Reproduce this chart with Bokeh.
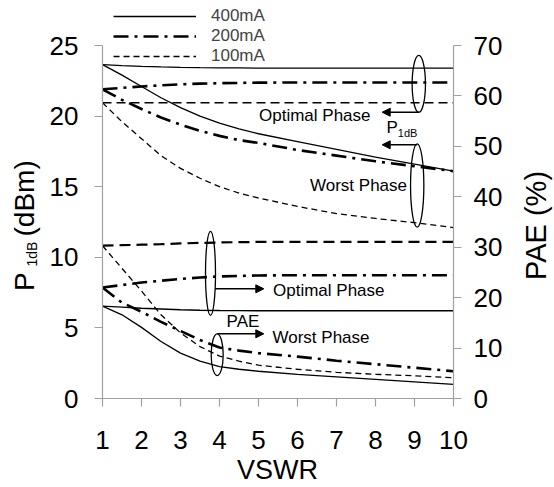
import math
from bokeh.plotting import figure
from bokeh.models import (Range1d, LinearAxis, FixedTicker, Legend, LegendItem,
                          Label, Arrow, NormalHead)
from bokeh.embed import file_html
from bokeh.resources import INLINE

# ---------------- data ----------------
vswr = [1, 1.5, 2, 2.5, 3, 3.5, 4, 4.5, 5, 6, 7, 8, 9, 10]

# P1dB (dBm), optimal phase
p1db_opt_400 = [23.65, 23.58, 23.52, 23.48, 23.45, 23.43, 23.42, 23.41, 23.40, 23.40, 23.40, 23.40, 23.40, 23.40]
p1db_opt_200 = [21.90, 22.00, 22.10, 22.18, 22.25, 22.30, 22.33, 22.35, 22.37, 22.38, 22.38, 22.38, 22.38, 22.38]
p1db_opt_100 = [20.95, 20.95, 20.95, 20.95, 20.95, 20.95, 20.95, 20.95, 20.95, 20.95, 20.95, 20.95, 20.95, 20.95]
# P1dB (dBm), worst phase
p1db_worst_400 = [23.65, 22.90, 22.10, 21.30, 20.60, 20.00, 19.50, 19.10, 18.75, 18.20, 17.65, 17.10, 16.60, 16.10]
p1db_worst_200 = [21.90, 21.15, 20.50, 19.90, 19.40, 18.95, 18.60, 18.30, 18.10, 17.60, 17.20, 16.80, 16.45, 16.10]
p1db_worst_100 = [20.95, 19.60, 18.40, 17.20, 16.30, 15.60, 15.00, 14.55, 14.20, 13.60, 13.10, 12.75, 12.45, 12.10]

# PAE (%), optimal phase
pae_opt_400 = [18.3, 18.1, 17.9, 17.75, 17.6, 17.5, 17.45, 17.42, 17.4, 17.4, 17.4, 17.4, 17.4, 17.4]
pae_opt_200 = [22.0, 22.5, 23.0, 23.35, 23.7, 24.0, 24.2, 24.3, 24.4, 24.45, 24.45, 24.45, 24.45, 24.45]
pae_opt_100 = [30.3, 30.4, 30.5, 30.6, 30.75, 30.85, 30.95, 31.0, 31.05, 31.05, 31.05, 31.05, 31.05, 31.05]
# PAE (%), worst phase
pae_worst_400 = [18.3, 16.6, 14.1, 11.3, 9.0, 7.4, 6.3, 5.8, 5.4, 4.8, 4.3, 3.8, 3.3, 2.8]
pae_worst_200 = [22.0, 19.0, 17.2, 15.2, 13.4, 11.6, 10.1, 9.5, 9.0, 8.3, 7.5, 6.8, 6.1, 5.4]
pae_worst_100 = [30.3, 25.8, 21.3, 16.6, 13.0, 10.3, 8.4, 7.4, 6.6, 5.8, 5.2, 4.8, 4.5, 4.1]

series_labels = ["400mA", "200mA", "100mA"]
x_ticks = [1, 2, 3, 4, 5, 6, 7, 8, 9, 10]
left_ticks = [0, 5, 10, 15, 20, 25]
right_ticks = [0, 10, 20, 30, 40, 50, 60, 70]
x_min, x_max = 1, 10
left_max, right_max = 25, 70

# ---------------- layout (pixels) ----------------
W, H = 554, 487
X1_PX, X10_PX = 102, 453      # where VSWR 1 and 10 sit
Y0_PX, YTOP_PX = 398, 45      # where 0 and the axis tops sit

sx = (x_max - x_min) / (X10_PX - X1_PX)
sl = left_max / (Y0_PX - YTOP_PX)
sr = right_max / (Y0_PX - YTOP_PX)

def X(px):
    return x_min + (px - X1_PX) * sx

def YL(py):
    return (Y0_PX - py) * sl

def YR(py):
    return (Y0_PX - py) * sr

FONT = "Liberation Sans"
AXIS_GRAY = "#a0a0a0"

p = figure(width=W, height=H, output_backend="svg", toolbar_location=None,
           x_range=Range1d(X(0), X(W)), y_range=Range1d(YL(H), YL(0)))
p.extra_y_ranges = {"pae": Range1d(YR(H), YR(0))}
p.min_border = 0
p.min_border_left = p.min_border_right = p.min_border_top = p.min_border_bottom = 0
p.outline_line_color = None
p.grid.visible = False
p.background_fill_color = "white"
p.border_fill_color = "white"

right_axis = LinearAxis(y_range_name="pae")
p.add_layout(right_axis, "right")

p.xaxis[0].ticker = FixedTicker(ticks=x_ticks)
p.yaxis[0].ticker = FixedTicker(ticks=left_ticks)
right_axis.ticker = FixedTicker(ticks=right_ticks)
p.xaxis[0].bounds = (x_min, x_max)
p.yaxis[0].bounds = (0, left_max)
right_axis.bounds = (0, right_max)
p.xaxis[0].fixed_location = 0
p.yaxis[0].fixed_location = x_min
right_axis.fixed_location = x_max

for ax in [p.xaxis[0], p.yaxis[0], right_axis]:
    ax.axis_line_color = AXIS_GRAY
    ax.axis_line_width = 1.2
    ax.major_tick_line_color = AXIS_GRAY
    ax.major_tick_line_width = 1.2
    ax.major_tick_in = 0
    ax.major_tick_out = 8
    ax.minor_tick_line_color = None
    ax.major_label_text_font = FONT
    ax.major_label_text_font_size = "26px"
    ax.major_label_text_color = "black"
p.xaxis[0].major_label_standoff = 24
p.yaxis[0].major_label_standoff = 16
right_axis.major_label_standoff = 12

solid = dict(line_color="black", line_width=1.3)
dashdot = dict(line_color="black", line_width=2.6, line_dash="15 6 3 6")
dash_thin = dict(line_color="black", line_width=1.3, line_dash="6 4")
dash_mid = dict(line_color="black", line_width=1.6, line_dash="9 5")
dash_thick = dict(line_color="black", line_width=2.2, line_dash="11 6")

# P1dB (left axis)
p.line(vswr, p1db_opt_400, **solid)
p.line(vswr, p1db_opt_200, **dashdot)
p.line(vswr, p1db_opt_100, **dash_mid)
r400 = p.line(vswr, p1db_worst_400, **solid)
r200 = p.line(vswr, p1db_worst_200, **dashdot)
r100 = p.line(vswr, p1db_worst_100, **dash_thin)

# PAE (right axis)
p.line(vswr, pae_opt_400, y_range_name="pae", **solid)
p.line(vswr, pae_opt_200, y_range_name="pae", **dashdot)
p.line(vswr, pae_opt_100, y_range_name="pae", **dash_thick)
p.line(vswr, pae_worst_400, y_range_name="pae", **solid)
p.line(vswr, pae_worst_200, y_range_name="pae", **dashdot)
p.line(vswr, pae_worst_100, y_range_name="pae", **dash_thin)

legend = Legend(items=[LegendItem(label=series_labels[0], renderers=[r400]),
                       LegendItem(label=series_labels[1], renderers=[r200]),
                       LegendItem(label=series_labels[2], renderers=[r100])],
                location=(113, H - 66), padding=0, margin=0, spacing=0,
                glyph_width=83, glyph_height=20, label_height=20,
                label_standoff=15, label_text_font=FONT,
                label_text_font_size="17px", background_fill_alpha=0,
                border_line_alpha=0)
p.add_layout(legend, "center")

# ellipses (annotation marks): centre in pixels, size in screen pixels
p.ellipse(x=[X(418.3), X(416.7)], y=[YL(83.4), YL(185)], width=[13.3, 13.3],
          height=[57, 83.4], width_units="screen", height_units="screen",
          fill_color=None, line_color="black", line_width=1.3)
p.ellipse(x=[X(210), X(216.7)], y=[YL(272.8), YL(354.2)], width=[10, 12],
          height=[84, 41.7], width_units="screen", height_units="screen",
          fill_color=None, line_color="black", line_width=1.3)

def arrow(px0, px1, py):
    head = NormalHead(size=8, fill_color="black", line_color="black", line_width=1)
    p.add_layout(Arrow(end=head, x_start=X(px0), y_start=YL(py), x_end=X(px1),
                       y_end=YL(py), line_color="black", line_width=1.5))

arrow(418.3, 381.7, 111.7)
arrow(416.7, 381.7, 144.3)
arrow(214.5, 263.3, 288.3)
arrow(216.7, 263.3, 333.3)

def label(px, py, text, size="17px", align="left", angle=0.0):
    p.add_layout(Label(x=X(px), y=YL(py), text=text, text_font=FONT, text_font_size=size,
                       text_align=align, text_baseline="middle", text_color="black",
                       angle=angle))

label(370, 114.5, "Optimal Phase", align="right")
label(386, 126.7, "P")
label(397.3, 132.8, "1dB", size="11px")
label(406.5, 185, "Worst Phase", align="right")
label(272.5, 290, "Optimal Phase")
label(242.5, 320.8, "PAE", align="center")
label(272, 336.7, "Worst Phase")

# axis titles
label(277, 469.5, "VSWR", size="27px", align="center")
up = math.pi / 2
label(23.5, 290.5, "P", size="28px", angle=up)
label(31, 266, "1dB", size="14px", angle=up)
label(23.5, 236, "(dBm)", size="28px", angle=up)
label(535, 279.5, "PAE (%)", size="29px", angle=up)

open("out.html", "w").write(file_html(p, INLINE))
